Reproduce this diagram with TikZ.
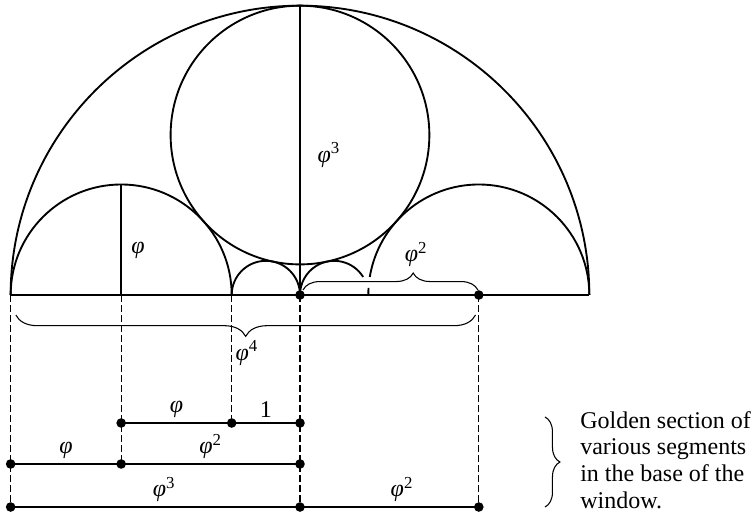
\documentclass[tikz,border=0pt]{standalone}
\usepackage{fontspec}
\setmainfont{Liberation Serif}
\usetikzlibrary{decorations.pathreplacing}
\newcommand{\gph}{\textit{φ}}
\newcommand{\gphp}[1]{\textit{φ}\textsuperscript{#1}}

\begin{document}
\begin{tikzpicture}[x=1.8cm,y=1.8cm,every node/.style={font=\fontsize{18}{20}\selectfont},
  arcline/.style={line width=1.4pt},
  baseline/.style={line width=2.2pt},
  seg/.style={line width=0.9pt},
  guide/.style={line width=0.8pt,dash pattern=on 5pt off 2.5pt},
  curly/.style={line width=0.8pt,decorate,decoration={brace,amplitude=#1}}]
\useasboundingbox (-4.392,-3.206) rectangle (6.647,4.319);
% points on the base of the window
\coordinate (L) at (-4.236,0);
\coordinate (A) at (-2.618,0);
\coordinate (B) at (-1,0);
\coordinate (O) at (0,0);
\coordinate (C) at (1,0);
\coordinate (D) at (2.618,0);
\coordinate (E) at (4.236,0);
% the window
\draw[arcline] (E) arc (0:180:4.236);
\draw[arcline] (B) arc (0:180:1.618);
\draw[arcline] (E) arc (0:170.6:1.618);
\draw[arcline] ([shift={(176.35:1.618)}]D) arc (176.35:180:1.618);
\draw[arcline] (O) arc (0:180:0.5);
\draw[arcline] ([shift={(31.9:0.5)}]0.5,0) arc (31.9:180:0.5);
\draw[arcline] (0,2.342) circle (1.894);
\draw[arcline] (O) -- (0,4.236);
\draw[arcline] (A) -- (-2.618,1.618);
\node (phiA) at (-2.37,0.66) {\gph};
\node (phiC) at (0.42,2.05) {\gphp{3}};
% braces on the base
\draw[curly=12.7pt,decoration={aspect=0.63}] (0.044,0.073) -- (2.605,0.073);
\node (phiB) at (1.70,0.59) {\gphp{2}};
\draw[curly=16pt] (2.57,-0.293) -- (-4.16,-0.293);
\node (phiD) at (-0.78,-0.85) {\gphp{4}};
\draw[baseline] (L) -- (E);
% segments below
\coordinate (P1) at (-2.618,-1.874);
\coordinate (Q1) at (-1,-1.874);
\coordinate (R1) at (0,-1.874);
\coordinate (P2) at (-4.236,-2.474);
\coordinate (Q2) at (-2.618,-2.474);
\coordinate (R2) at (0,-2.474);
\coordinate (P3) at (-4.236,-3.104);
\coordinate (Q3) at (0,-3.104);
\coordinate (R3) at (2.618,-3.104);
\draw[guide] (L) -- (P3);
\draw[guide] (A) -- (Q2);
\draw[guide] (B) -- (Q1);
\draw[guide] (O) -- (Q3);
\draw[guide] (D) -- (R3);
\draw[seg] (P1) -- node[above] {\gph} (Q1) -- node[above] {1} (R1);
\draw[seg] (P2) -- node[above] {\gph} (Q2) -- node[above] {\gphp{2}} (R2);
\draw[seg] (P3) -- node[above,pos=0.53] {\gphp{3}} (Q3) -- node[above,pos=0.57] {\gphp{2}} (R3);
\foreach \pt in {O,D,P1,Q1,R1,P2,Q2,R2,P3,Q3,R3}
  \fill (\pt) circle (3.6pt);
% note
\draw[curly=11.2pt] (3.587,-1.786) -- (3.587,-3.104);
\node[anchor=north west,align=left,inner sep=0pt] (note) at (4.10,-1.698)
  {Golden section of\\various segments\\in the base of the\\window.};
\end{tikzpicture}
\end{document}
